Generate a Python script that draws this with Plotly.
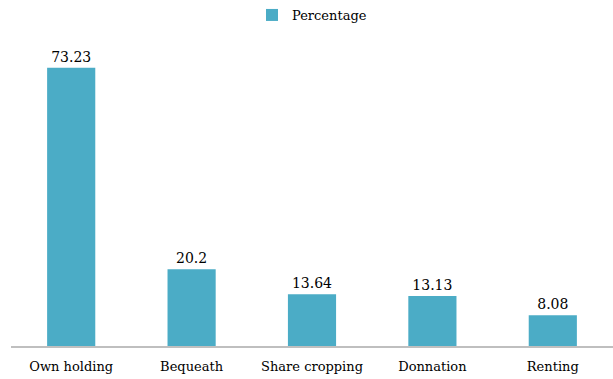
import plotly.graph_objects as go

categories = ["Own holding", "Bequeath", "Share cropping", "Donnation", "Renting"]
values = [73.23, 20.2, 13.64, 13.13, 8.08]
labels = ["73.23", "20.2", "13.64", "13.13", "8.08"]

FONT = "DejaVu Serif"

fig = go.Figure()
fig.add_trace(go.Bar(
    x=categories, y=values, name="Percentage",
    marker=dict(color="#4BACC6", line=dict(width=0)),
    text=labels, textposition="outside", cliponaxis=False,
    textfont=dict(family=FONT, size=14, color="#000000"),
    showlegend=True,
))
fig.update_layout(
    width=613, height=379,
    margin=dict(l=11, r=0, t=42, b=33),
    paper_bgcolor="white", plot_bgcolor="white",
    font=dict(family=FONT, size=13, color="#000000"),
    bargap=0.6,
    showlegend=True,
    legend=dict(orientation="h", x=0.5, xanchor="center", yref="container", y=1.0, yanchor="top",
                font=dict(family=FONT, size=13), itemwidth=30),
    xaxis=dict(showline=True, linecolor="#BFBFBF", linewidth=2, showgrid=False,
               ticks="outside", ticklen=7, tickcolor="rgba(0,0,0,0)", tickfont=dict(family=FONT, size=13),
               automargin=False),
    yaxis=dict(range=[0, 80], visible=False, showgrid=False),
)
fig.write_html("out.html")
